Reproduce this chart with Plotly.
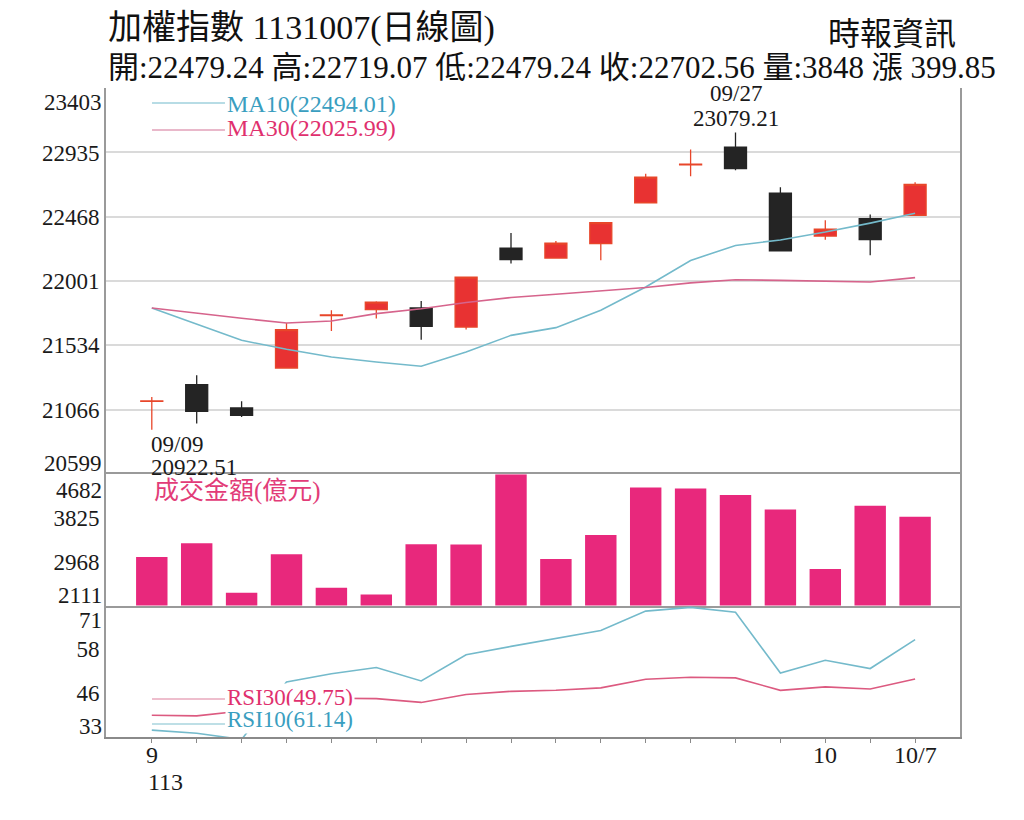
import plotly.graph_objects as go
from plotly.subplots import make_subplots

# 加權指數 daily candles, 113/09/09 - 113/10/07
dates = ["09/09", "09/10", "09/11", "09/12", "09/13", "09/16", "09/18", "09/19", "09/20",
         "09/23", "09/24", "09/25", "09/26", "09/27", "09/30", "10/01", "10/04", "10/07"]
tick_labels = ["9", "", "", "", "", "", "", "", "", "", "", "", "", "", "", "10", "", "10/7"]

open_ = [21128, 21250, 21080, 21370, 21750, 21794, 21806, 21667, 22241,
         22168, 22273, 22570, 22845, 22974, 22640, 22328, 22454, 22479.24]
high = [21160, 21317, 21129, 21697, 21789, 21854, 21856, 22035, 22350,
        22292, 22427, 22781, 22957, 23079.21, 22683, 22442, 22485, 22719.07]
low = [20922.51, 20967, 21015, 21370, 21639, 21729, 21576, 21649, 22128,
       22168, 22152, 22572, 22763, 22805, 22220, 22302, 22188, 22479.24]
close = [21131, 21056, 21027, 21649, 21755, 21849, 21673, 22030, 22157,
         22277, 22425, 22756, 22850, 22817, 22220, 22379, 22302.71, 22702.56]

ma10 = [21806, 21690, 21571, 21506, 21450, 21414, 21383, 21486, 21607,
        21663, 21789, 21958, 22151, 22260, 22300, 22357, 22422, 22494.01]
ma30 = [21806, 21767, 21731, 21697, 21711, 21765, 21800, 21846, 21882,
        21905, 21929, 21954, 21988, 22011, 22006, 22001, 21994, 22025.99]

# 成交金額(億元)
volume = [3064, 3329, 2361, 3116, 2459, 2330, 3311, 3306, 4682,
          3023, 3491, 4422, 4402, 4277, 3990, 2827, 4063, 3848]

rsi10 = [35.0, 34.1, 32.3, 48.9, 51.3, 53.1, 49.2, 56.8, 59.2,
         61.4, 63.8, 69.4, 70.5, 69.1, 51.5, 55.2, 52.8, 61.14]
rsi30 = [39.3, 39.1, 40.5, 42.5, 44.2, 44.1, 43.0, 45.3, 46.2,
         46.5, 47.2, 49.7, 50.3, 50.1, 46.5, 47.5, 46.9, 49.75]

price_ticks = [20599, 21066, 21534, 22001, 22468, 22935, 23403]
vol_ticks = [2111, 2968, 3825, 4682]
rsi_ticks = [33, 45.67, 58.33, 71]
rsi_tick_text = ["33", "46", "58", "71"]

SERIF = "Liberation Serif, Noto Sans CJK TC"
RED = "#e83232"
BLACK = "#242424"
PINK = "#e8287c"
CYAN_LINE = "#74bacb"
CYAN_TEXT = "#3a9ec0"
ROSE_LINE = "#d6648c"
ROSE_TEXT = "#e0306e"

x = list(range(len(dates)))

fig = make_subplots(rows=3, cols=1, shared_xaxes=True, vertical_spacing=0,
                    row_heights=[386.5, 131.5, 131.5])

fig.add_trace(go.Candlestick(
    x=x, open=open_, high=high, low=low, close=close,
    increasing=dict(line=dict(color="#e8462a", width=1.3), fillcolor=RED),
    decreasing=dict(line=dict(color=BLACK, width=1.3), fillcolor=BLACK),
    whiskerwidth=0, hoverinfo="skip"), row=1, col=1)
fig.add_trace(go.Scatter(x=x, y=ma10, mode="lines", line=dict(color=CYAN_LINE, width=1.6),
                         hoverinfo="skip"), row=1, col=1)
fig.add_trace(go.Scatter(x=x, y=ma30, mode="lines", line=dict(color=ROSE_LINE, width=1.6),
                         hoverinfo="skip"), row=1, col=1)

fig.add_trace(go.Bar(x=x, y=volume, width=0.7, marker=dict(color=PINK, line=dict(width=0)),
                     hoverinfo="skip"), row=2, col=1)

fig.add_trace(go.Scatter(x=x, y=rsi10, mode="lines", line=dict(color=CYAN_LINE, width=1.6),
                         hoverinfo="skip"), row=3, col=1)
fig.add_trace(go.Scatter(x=x, y=rsi30, mode="lines", line=dict(color="#dc5a80", width=1.6),
                         hoverinfo="skip"), row=3, col=1)

xr = [-1.02, 18.0]
axis_font = dict(family=SERIF, size=23, color="#1a1a1a")
fig.update_xaxes(range=xr, showgrid=False, zeroline=False, fixedrange=True)
fig.update_layout(xaxis=dict(rangeslider=dict(visible=False), showticklabels=False, showline=False),
                  xaxis2=dict(showticklabels=False, showline=True, mirror=True,
                              linecolor="#9a9a9a", linewidth=2),
                  xaxis3=dict(showline=True, linecolor="#8a8a8a", linewidth=2,
                              ticks="outside", ticklen=4, tickcolor="#8a8a8a",
                              tickvals=x, showticklabels=False))

fig.update_yaxes(zeroline=False, showline=True, mirror=True, linecolor="#9a9a9a", linewidth=2,
                 ticks="", tickfont=axis_font, fixedrange=True)
fig.update_yaxes(range=[price_ticks[0], price_ticks[-1]], tickvals=price_ticks,
                 ticktext=[""] + [str(v) for v in price_ticks[1:-1]] + [""],
                 showgrid=True, gridcolor="#dadada", gridwidth=1.5, row=1, col=1)
fig.update_yaxes(range=[vol_ticks[0], vol_ticks[-1]], tickvals=vol_ticks,
                 ticktext=[""] + [str(v) for v in vol_ticks[1:-1]] + [""],
                 showgrid=False, row=2, col=1)
fig.update_yaxes(range=[rsi_ticks[0], rsi_ticks[-1]], tickvals=rsi_ticks,
                 ticktext=[""] + rsi_tick_text[1:-1] + [""],
                 showgrid=False, row=3, col=1)

ann = []
# edge tick labels, nudged inside their panels
edge_labels = [("y", price_ticks[-1], str(price_ticks[-1]), -14),
               ("y", price_ticks[0], str(price_ticks[0]), 11),
               ("y2", vol_ticks[-1], str(vol_ticks[-1]), -16),
               ("y2", vol_ticks[0], str(vol_ticks[0]), 10),
               ("y3", rsi_ticks[-1], rsi_tick_text[-1], -15),
               ("y3", rsi_ticks[0], rsi_tick_text[0], 11)]
for yref, yv, txt, shift in edge_labels:
    ann.append(dict(xref="paper", x=0, xanchor="right", xshift=-2, yref=yref, y=yv,
                    yanchor="middle", yshift=shift, text=txt, showarrow=False, font=axis_font))

# date labels under the bottom axis
for i, lab in enumerate(tick_labels):
    if lab:
        ann.append(dict(xref="x3", yref="paper", x=i, y=-0.028, xanchor="center",
                        yanchor="middle", text=lab, showarrow=False,
                        font=dict(family=SERIF, size=24, color="#1a1a1a")))
ann.append(dict(xref="x3", yref="paper", x=0, y=-0.0693, xanchor="left", xshift=-6,
                yanchor="middle", text="113", showarrow=False,
                font=dict(family=SERIF, size=24, color="#1a1a1a")))

# header
last = len(dates) - 1
change = close[last] - close[last - 1]
header2 = (f"開:{open_[last]:.2f} 高:{high[last]:.2f} 低:{low[last]:.2f} "
           f"收:{close[last]:.2f} 量:{volume[last]} 漲 {change:.2f}")
ann.append(dict(xref="paper", yref="paper", x=0, y=1.0924, xanchor="left", yanchor="middle",
                text="加權指數 1131007(日線圖)", showarrow=False,
                font=dict(family=SERIF, size=34, color="#111")))
ann.append(dict(xref="paper", yref="paper", x=0, y=1.0323, xanchor="left", yanchor="middle",
                text=header2, showarrow=False, font=dict(family=SERIF, size=31, color="#111")))
ann.append(dict(xref="paper", yref="paper", x=1, xshift=-2, y=1.0831, xanchor="right",
                yanchor="middle", text="時報資訊", showarrow=False,
                font=dict(family=SERIF, size=32, color="#111")))

# high / low markers
lo_i = low.index(min(low))
hi_i = high.index(max(high))
ann.append(dict(xref="x", yref="y", x=lo_i, y=low[lo_i], xanchor="left", yanchor="middle",
                xshift=-3, yshift=-15, showarrow=False, text=dates[lo_i], font=axis_font))
ann.append(dict(xref="x", yref="y", x=lo_i, y=low[lo_i], xanchor="left", yanchor="middle",
                xshift=-3, yshift=-38, showarrow=False, text=f"{low[lo_i]:.2f}", font=axis_font))
ann.append(dict(xref="x", yref="y", x=hi_i, y=high[hi_i], xanchor="center", yanchor="middle",
                yshift=39, showarrow=False, text=dates[hi_i], font=axis_font))
ann.append(dict(xref="x", yref="y", x=hi_i, y=high[hi_i], xanchor="center", yanchor="middle",
                yshift=14, showarrow=False, text=f"{high[hi_i]:.2f}", font=axis_font))

# legends
ann.append(dict(xref="paper", yref="paper", x=0.1393, y=0.9753, xanchor="left", yanchor="middle",
                text=f"MA10({ma10[-1]:.2f})", showarrow=False,
                font=dict(family=SERIF, size=24, color=CYAN_TEXT)))
ann.append(dict(xref="paper", yref="paper", x=0.1393, y=0.9384, xanchor="left", yanchor="middle",
                text=f"MA30({ma30[-1]:.2f})", showarrow=False,
                font=dict(family=SERIF, size=24, color=ROSE_TEXT)))
ann.append(dict(xref="paper", yref="paper", x=0.0539, y=0.379, xanchor="left", yanchor="middle",
                text="成交金額(億元)", showarrow=False,
                font=dict(family=SERIF, size=25, color="#e23c78")))
ann.append(dict(xref="paper", yref="paper", x=0.1393, y=0.0601, xanchor="left", yanchor="middle",
                text=f"RSI30({rsi30[-1]:.2f})", showarrow=False, bgcolor="white", borderpad=1,
                font=dict(family=SERIF, size=23, color=ROSE_TEXT)))
ann.append(dict(xref="paper", yref="paper", x=0.1393, y=0.0265, xanchor="left", yanchor="middle",
                text=f"RSI10({rsi10[-1]:.2f})", showarrow=False, bgcolor="white", borderpad=1,
                font=dict(family=SERIF, size=23, color=CYAN_TEXT)))

legend_lines = [(0.9769, "#9fd0dc"), (0.9353, "#e2a0b8"), (0.0586, "#e8a8bc"), (0.0200, "#a8d4de")]
shapes = [dict(type="line", xref="paper", yref="paper", x0=0.0539, x1=0.1393, y0=yy, y1=yy,
               line=dict(color=c, width=1.5)) for yy, c in legend_lines]

# the page body adds an 8px margin, so the figure is 16px smaller than the window
fig.update_layout(width=1008, height=804, margin=dict(l=98, r=56, t=80, b=75),
                  paper_bgcolor="white", plot_bgcolor="white", showlegend=False,
                  hovermode=False, annotations=ann, shapes=shapes, bargap=0.3,
                  font=dict(family=SERIF, color="#1a1a1a"))

fig.write_html("out.html")
